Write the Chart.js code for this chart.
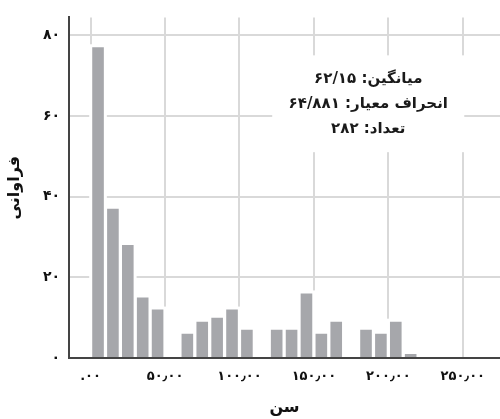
<!DOCTYPE html>
<html>
<head>
<meta charset="utf-8">
<script src="https://cdn.jsdelivr.net/npm/chart.js@4"></script>
<style>
html,body{margin:0;padding:0;background:#fff;}
#wrap{width:500px;height:419px;position:relative;}
</style>
</head>
<body>
<div id="wrap"><canvas id="c" width="500" height="419"></canvas></div>
<script>
// Bin centres (age, bins of width 10) and frequencies
const binCenters = [5,15,25,35,45,55,65,75,85,95,105,115,125,135,145,155,165,175,185,195,205,215];
const frequencies = [77,37,28,15,12,0,6,9,10,12,7,0,7,7,16,6,9,0,7,6,9,1];
const xTickValues = [0,50,100,150,200,250];
const xTickLabels = [".۰۰","۵۰٫۰۰","۱۰۰٫۰۰","۱۵۰٫۰۰","۲۰۰٫۰۰","۲۵۰٫۰۰"];
const yTickValues = [0,20,40,60,80];
const yTickLabels = ["۰","۲۰","۴۰","۶۰","۸۰"];
const xTitle = "سن";
const yTitle = "فراوانی";
const statsLines = ["میانگین: ۶۲/۱۵","انحراف معیار: ۶۴/۸۸۱","تعداد: ۲۸۲"];

const FONT = "'DejaVu Sans', sans-serif";

const barHalo = {
  id: 'barHalo',
  beforeDatasetsDraw(chart) {
    const ctx = chart.ctx;
    const meta = chart.getDatasetMeta(0);
    ctx.save();
    ctx.fillStyle = '#ffffff';
    meta.data.forEach((bar, i) => {
      if (!frequencies[i]) return;
      const w = bar.width;
      const pad = 3;
      ctx.fillRect(bar.x - w/2 - pad, bar.y - pad, w + 2*pad, bar.base - bar.y + pad);
    });
    ctx.restore();
  }
};

const statsBox = {
  id: 'statsBox',
  afterDatasetsDraw(chart) {
    const ctx = chart.ctx;
    const xs = chart.scales.x, ys = chart.scales.y;
    const x0 = xs.getPixelForValue(122), x1 = xs.getPixelForValue(251);
    const y0 = ys.getPixelForValue(75), y1 = ys.getPixelForValue(51);
    ctx.save();
    ctx.fillStyle = '#ffffff';
    ctx.fillRect(x0, y0, x1 - x0, y1 - y0);
    ctx.fillStyle = '#1a1a1a';
    ctx.font = "bold 15px " + FONT;
    ctx.direction = 'rtl';
    ctx.textAlign = 'center';
    ctx.textBaseline = 'middle';
    const cx = (x0 + x1) / 2;
    const cy = (y0 + y1) / 2;
    const lh = 25;
    statsLines.forEach((t, i) => {
      ctx.fillText(t, cx, cy + (i - 1) * lh);
    });
    ctx.restore();
  }
};

new Chart(document.getElementById('c'), {
  type: 'bar',
  data: {
    datasets: [{
      data: binCenters.map((x, i) => ({x: x, y: frequencies[i]})),
      backgroundColor: '#a6a7ab',
      borderWidth: 0,
      barPercentage: 0.78,
      categoryPercentage: 1.0
    }]
  },
  options: {
    responsive: false,
    animation: false,
    devicePixelRatio: 1,
    layout: {padding: 0},
    plugins: {legend: {display: false}, tooltip: {enabled: false}},
    scales: {
      x: {
        type: 'linear',
        offset: false,
        min: -14.5,
        max: 275,
        afterFit(s) { s.height = 61; },
        afterBuildTicks(s) { s.ticks = xTickValues.map(v => ({value: v})); },
        ticks: {
          includeBounds: false,
          padding: 11,
          maxRotation: 0,
          color: '#111',
          font: {family: FONT, size: 13, weight: 'bold'},
          callback: (v) => { const i = xTickValues.indexOf(v); return i >= 0 ? xTickLabels[i] : ''; }
        },
        grid: {color: '#d9d9d9', lineWidth: 2, drawTicks: false, offset: false},
        border: {color: '#444', width: 2},
        title: {display: true, text: xTitle, color: '#111', padding: {top: 0, bottom: 2},
                font: {family: FONT, size: 16, weight: 'bold'}}
      },
      y: {
        type: 'linear',
        min: 0,
        max: 84.4,
        afterFit(s) { s.width = 69; },
        afterBuildTicks(s) { s.ticks = yTickValues.map(v => ({value: v})); },
        ticks: {
          includeBounds: false,
          padding: 9,
          color: '#111',
          font: {family: FONT, size: 14, weight: 'bold'},
          callback: (v) => { const i = yTickValues.indexOf(v); return i >= 0 ? yTickLabels[i] : ''; }
        },
        grid: {color: '#d9d9d9', lineWidth: 2, drawTicks: false},
        border: {color: '#444', width: 2},
        title: {display: true, text: yTitle, color: '#111', padding: {top: 5, bottom: 0},
                font: {family: FONT, size: 16, weight: 'bold'}}
      }
    }
  },
  plugins: [barHalo, statsBox]
});
</script>
</body>
</html>
